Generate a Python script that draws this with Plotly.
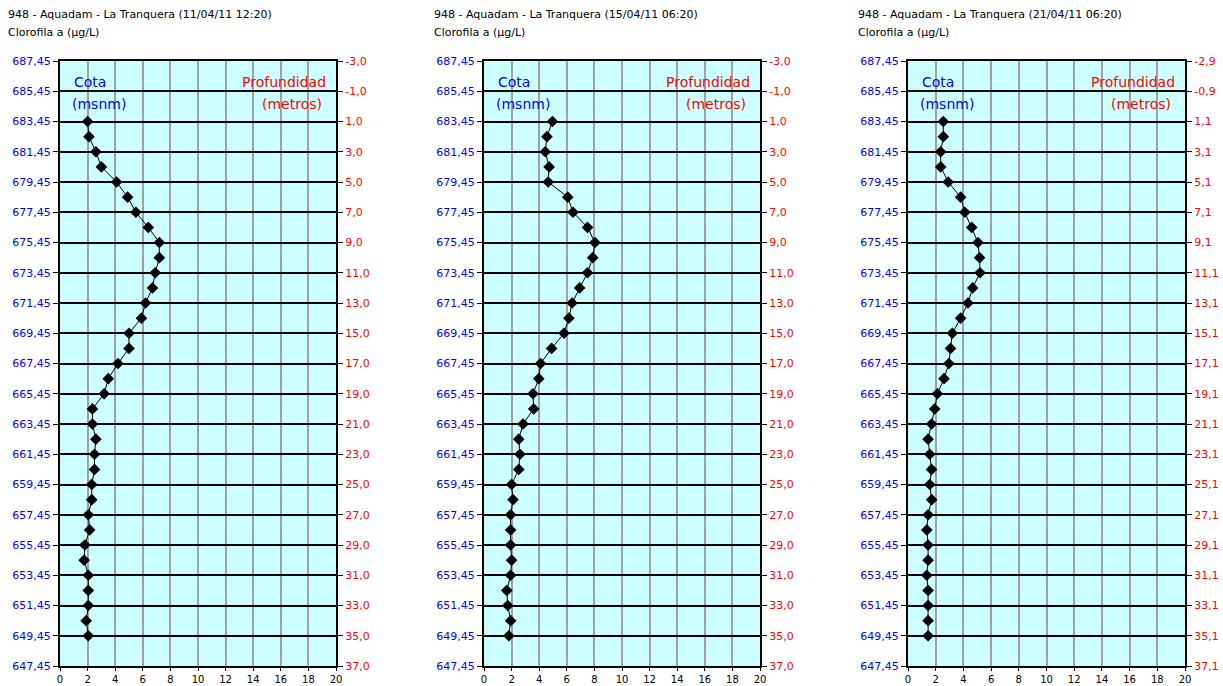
import plotly.graph_objects as go

W, H = 1223, 686

titles = [
    "948 - Aquadam - La Tranquera (11/04/11 12:20)",
    "948 - Aquadam - La Tranquera (15/04/11 06:20)",
    "948 - Aquadam - La Tranquera (21/04/11 06:20)",
]
subtitle = "Clorofila a (µg/L)"

cota = [683.45, 682.45, 681.45, 680.45, 679.45, 678.45, 677.45, 676.45, 675.45, 674.45,
        673.45, 672.45, 671.45, 670.45, 669.45, 668.45, 667.45, 666.45, 665.45, 664.45,
        663.45, 662.45, 661.45, 660.45, 659.45, 658.45, 657.45, 656.45, 655.45, 654.45,
        653.45, 652.45, 651.45, 650.45, 649.45]

depth_a = [1.0, 2.0, 3.0, 4.0, 5.0, 6.0, 7.0, 8.0, 9.0, 10.0, 11.0, 12.0, 13.0, 14.0, 15.0,
           16.0, 17.0, 18.0, 19.0, 20.0, 21.0, 22.0, 23.0, 24.0, 25.0, 26.0, 27.0, 28.0,
           29.0, 30.0, 31.0, 32.0, 33.0, 34.0, 35.0]
depth_b = [1.1, 2.1, 3.1, 4.1, 5.1, 6.1, 7.1, 8.1, 9.1, 10.1, 11.1, 12.1, 13.1, 14.1, 15.1,
           16.1, 17.1, 18.1, 19.1, 20.1, 21.1, 22.1, 23.1, 24.1, 25.1, 26.1, 27.1, 28.1,
           29.1, 30.1, 31.1, 32.1, 33.1, 34.1, 35.1]

chl_1 = [2.0, 2.1, 2.6, 3.0, 4.1, 4.9, 5.5, 6.4, 7.2, 7.2, 6.9, 6.7, 6.2, 5.9, 5.0, 5.0,
         4.2, 3.5, 3.2, 2.35, 2.35, 2.6, 2.5, 2.5, 2.3, 2.3, 2.05, 2.15, 1.8, 1.75, 2.05,
         2.05, 2.05, 1.9, 2.05]
chl_2 = [4.96, 4.56, 4.44, 4.72, 4.65, 6.07, 6.45, 7.5, 8.04, 7.88, 7.5, 6.93, 6.38, 6.15,
         5.8, 4.9, 4.1, 3.97, 3.55, 3.6, 2.83, 2.52, 2.6, 2.52, 2.0, 2.1, 1.93, 1.93, 1.93,
         2.0, 1.93, 1.65, 1.72, 1.93, 1.8]
chl_3 = [2.55, 2.55, 2.36, 2.36, 2.9, 3.8, 4.1, 4.6, 5.05, 5.17, 5.2, 4.67, 4.33, 3.8, 3.2,
         3.07, 2.95, 2.6, 2.12, 1.93, 1.7, 1.45, 1.57, 1.7, 1.57, 1.71, 1.45, 1.36, 1.45,
         1.45, 1.36, 1.45, 1.45, 1.45, 1.45]

cota_ticks = [687.45, 685.45, 683.45, 681.45, 679.45, 677.45, 675.45, 673.45, 671.45, 669.45,
              667.45, 665.45, 663.45, 661.45, 659.45, 657.45, 655.45, 653.45, 651.45, 649.45,
              647.45]
prof_ticks_a = [-3.0, -1.0, 1.0, 3.0, 5.0, 7.0, 9.0, 11.0, 13.0, 15.0, 17.0, 19.0, 21.0, 23.0,
                25.0, 27.0, 29.0, 31.0, 33.0, 35.0, 37.0]
prof_text_a = ["-3,0", "-1,0", "1,0", "3,0", "5,0", "7,0", "9,0", "11,0", "13,0", "15,0",
               "17,0", "19,0", "21,0", "23,0", "25,0", "27,0", "29,0", "31,0", "33,0",
               "35,0", "37,0"]
prof_ticks_b = [-2.9, -0.9, 1.1, 3.1, 5.1, 7.1, 9.1, 11.1, 13.1, 15.1, 17.1, 19.1, 21.1, 23.1,
                25.1, 27.1, 29.1, 31.1, 33.1, 35.1, 37.1]
prof_text_b = ["-2,9", "-0,9", "1,1", "3,1", "5,1", "7,1", "9,1", "11,1", "13,1", "15,1",
               "17,1", "19,1", "21,1", "23,1", "25,1", "27,1", "29,1", "31,1", "33,1",
               "35,1", "37,1"]
x_ticks = [0, 2, 4, 6, 8, 10, 12, 14, 16, 18, 20]

panels = [
    dict(title=titles[0], chl=chl_1, depth=depth_a, pt=prof_ticks_a, ptx=prof_text_a),
    dict(title=titles[1], chl=chl_2, depth=depth_a, pt=prof_ticks_a, ptx=prof_text_a),
    dict(title=titles[2], chl=chl_3, depth=depth_b, pt=prof_ticks_b, ptx=prof_text_b),
]

# pixel geometry
px_left = [60, 484, 908]
px_right = [336, 760, 1185]
py_top, py_bot = 61, 666
title_x = [6, 432, 856]

FONT = "DejaVu Sans"
BLUE = "#0000FF"
RED = "#FF0000"
BG = "#CCFFFF"

fig = go.Figure()
layout = dict(
    width=W, height=H, autosize=False,
    margin=dict(l=0, r=0, t=0, b=0, pad=0, autoexpand=False),
    paper_bgcolor="white",
    plot_bgcolor=BG,
    showlegend=False,
    separators=",.",
    font=dict(family=FONT, size=11, color="black"),
    annotations=[],
)

ydom = [1 - py_bot / H, 1 - py_top / H]

for i, p in enumerate(panels):
    n = i + 1
    xname = "x" if n == 1 else f"x{n}"
    yl = n              # left axis index 1..3
    yr = n + 3          # right axis index 4..6
    ylname = "y" if yl == 1 else f"y{yl}"
    yrname = f"y{yr}"

    fig.add_trace(go.Scatter(
        x=p["chl"], y=cota, xaxis=xname, yaxis=ylname, mode="lines+markers",
        line=dict(color="black", width=1),
        marker=dict(symbol="diamond", size=9, color="black"),
        hoverinfo="x+y",
    ))
    fig.add_trace(go.Scatter(
        x=p["chl"], y=p["depth"], xaxis=xname, yaxis=yrname, mode="markers",
        marker=dict(size=1, color="rgba(0,0,0,0)"), hoverinfo="skip",
    ))

    xd = [px_left[i] / W, px_right[i] / W]
    layout["xaxis" if n == 1 else f"xaxis{n}"] = dict(
        domain=xd, anchor=ylname, range=[0, 20], tickvals=x_ticks,
        showgrid=True, gridcolor="#A0A0A0", gridwidth=2,
        showline=True, linecolor="black", linewidth=2, mirror=True,
        ticks="outside", ticklen=3, tickcolor="black", tickwidth=1,
        tickfont=dict(family=FONT, size=10, color="black"),
        zeroline=False, fixedrange=True, automargin=False,
    )
    layout["yaxis" if yl == 1 else f"yaxis{yl}"] = dict(
        domain=ydom, anchor=xname, range=[647.45, 687.45], tickvals=cota_ticks,
        tickformat=".2f",
        showgrid=True, gridcolor="black", gridwidth=2,
        showline=True, linecolor="black", linewidth=2,
        ticks="outside", ticklen=5, tickcolor="black", tickwidth=1,
        tickfont=dict(family=FONT, size=11, color=BLUE),
        zeroline=False, fixedrange=True, automargin=False,
    )
    layout[f"yaxis{yr}"] = dict(
        overlaying=ylname, anchor=xname, side="right",
        range=[p["pt"][-1], p["pt"][0]], tickvals=p["pt"], ticktext=p["ptx"],
        showgrid=False, showline=True, linecolor="black", linewidth=2,
        ticks="outside", ticklen=5, tickcolor="black", tickwidth=1,
        tickfont=dict(family=FONT, size=11, color=RED),
        zeroline=False, fixedrange=True, automargin=False,
    )

    # titles
    layout["annotations"].append(dict(
        text=p["title"], xref="paper", yref="paper", x=title_x[i] / W, y=1 - 15 / H,
        xanchor="left", yanchor="middle", showarrow=False,
        font=dict(family=FONT, size=11, color="black")))
    layout["annotations"].append(dict(
        text=subtitle, xref="paper", yref="paper", x=title_x[i] / W, y=1 - 32 / H,
        xanchor="left", yanchor="middle", showarrow=False,
        font=dict(family=FONT, size=11, color="black")))
    # in-plot labels
    for txt, yy, col, xx, anc in [
        ("Cota", 82, BLUE, px_left[i] + 12, "left"),
        ("(msnm)", 104, BLUE, px_left[i] + 10, "left"),
        ("Profundidad", 82, RED, px_right[i] - 8, "right"),
        ("(metros)", 104, RED, px_right[i] - 12, "right"),
    ]:
        layout["annotations"].append(dict(
            text=txt, xref="paper", yref="paper", x=xx / W, y=1 - yy / H,
            xanchor=anc, yanchor="middle", showarrow=False,
            font=dict(family=FONT, size=14, color=col)))

fig.update_layout(**layout)
fig.write_html(
    "out.html",
    config={"displayModeBar": False},
    post_script="document.body.style.margin='0';document.body.style.padding='0';"
                "document.documentElement.style.overflow='hidden';",
)
